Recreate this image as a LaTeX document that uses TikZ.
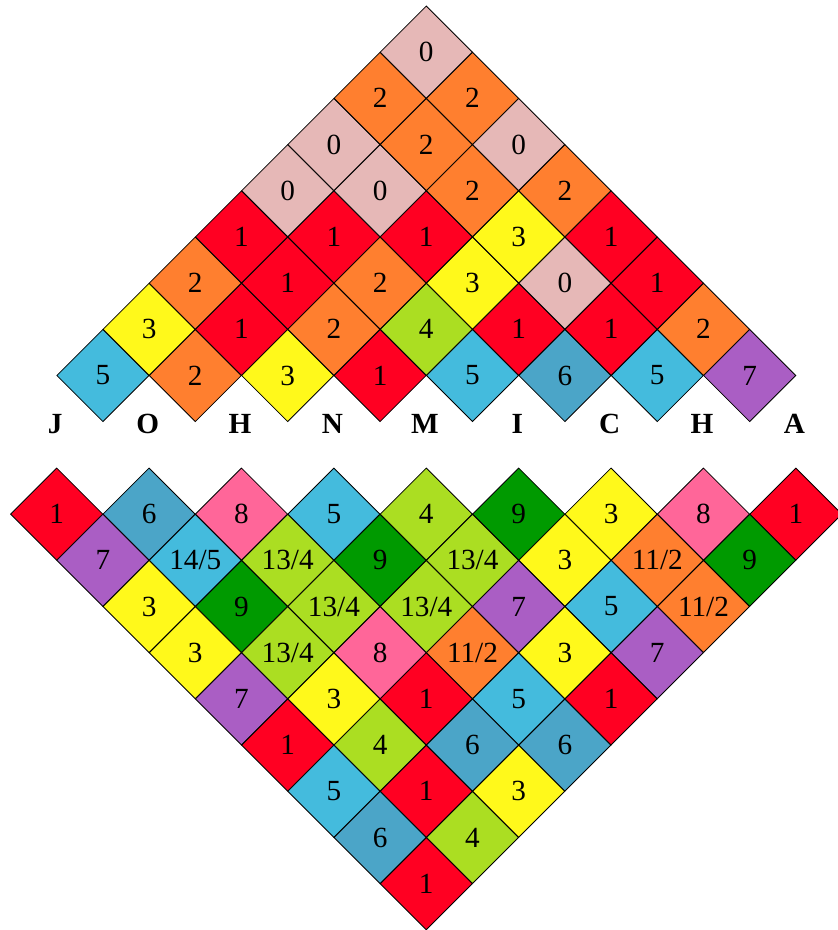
\documentclass[tikz,border=0pt]{standalone}
\usepackage{fontspec}
\setmainfont{Liberation Serif}
\usetikzlibrary{shapes.geometric}

% 値ごとの色
\definecolor{c0}{HTML}{E6B8B7}
\definecolor{c1}{HTML}{FF0022}
\definecolor{c2}{HTML}{FF7F2F}
\definecolor{c3}{HTML}{FFF91B}
\definecolor{c4}{HTML}{ABDE22}
\definecolor{c5}{HTML}{44BBDD}
\definecolor{c6}{HTML}{4BA5C8}
\definecolor{c7}{HTML}{AA5EC4}
\definecolor{c8}{HTML}{FF6699}
\definecolor{c9}{HTML}{009A00}

\begin{document}
\begin{tikzpicture}[
    line width=0.5pt,                              % 枠線
    font=\fontsize{18}{20}\selectfont,             % 数字のフォント
    cell/.style={diamond, draw, aspect=1, inner sep=0pt,
                 minimum width=2cm, minimum height=2cm},
    letter/.style={anchor=base, font=\fontsize{18}{20}\selectfont\bfseries}
]

    \useasboundingbox (-1.227,-11.002) rectangle (16.890,9.128);

    % --- 1. 上の三角形（下の段から） ---
    \foreach \r/\vals in {1/{5,2,3,1,5,6,5,7}, 2/{3,1,2,4,1,1,2},
                          3/{2,1,2,3,0,1}, 4/{1,1,1,3,1}, 5/{0,0,2,2},
                          6/{0,2,0}, 7/{2,2}, 8/{0}} {
        \foreach \v [count=\i from 0] in \vals
            \node [cell, fill=c\v] (t\r-\i) at ({2*\i+\r}, \r) {\v};
    }

    % --- 2. 名前の文字 ---
    \foreach \lett [count=\k from 0] in {J,O,H,N,M,I,C,H,A}
        \node [letter] (l\k) at ({2*\k-0.03}, -0.245) {\lett};

    % --- 3. 下の三角形（値/色） ---
    \foreach \s/\vals in {
        1/{1/1,6/6,8/8,5/5,4/4,9/9,3/3,8/8,1/1},
        2/{7/7,{14/5}/5,{13/4}/4,9/9,{13/4}/4,3/3,{11/2}/2,9/9},
        3/{3/3,9/9,{13/4}/4,{13/4}/4,7/7,5/5,{11/2}/2},
        4/{3/3,{13/4}/4,8/8,{11/2}/2,3/3,7/7},
        5/{7/7,3/3,1/1,5/5,1/1},
        6/{1/1,4/4,6/6,6/6},
        7/{5/5,1/1,3/3},
        8/{6/6,4/4},
        9/{1/1}} {
        \foreach \v/\k [count=\i from 0] in \vals
            \node [cell, fill=c\k] (b\s-\i) at ({2*\i+\s-1}, {-(\s+1)}) {\v};
    }

\end{tikzpicture}
\end{document}
